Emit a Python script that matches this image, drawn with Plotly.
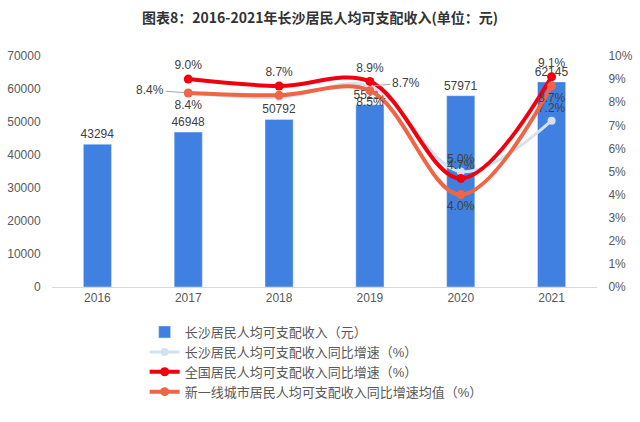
import plotly.graph_objects as go

years = ["2016", "2017", "2018", "2019", "2020", "2021"]
income = [43294, 46948, 50792, 55211, 57971, 62145]
growth_years = ["2017", "2018", "2019", "2020", "2021"]
cs_growth = [8.4, 8.2, 8.7, 5.0, 7.2]
nat_growth = [9.0, 8.7, 8.9, 4.7, 9.1]
tier_growth = [8.4, 8.3, 8.5, 4.0, 8.7]

names = ["长沙居民人均可支配收入（元）", "长沙居民人均可支配收入同比增速（%）",
         "全国居民人均可支配收入同比增速（%）", "新一线城市居民人均可支配收入同比增速均值（%）"]

FONT = "Liberation Sans, Noto Sans CJK SC, sans-serif"
lab = dict(family=FONT, size=12, color="#404040")

def pct(v):
    return f"{v:.1f}%"

fig = go.Figure()
fig.add_trace(go.Bar(x=years, y=income, name=names[0], marker_color="#3F80E0",
                     text=[str(v) for v in income], textposition="outside",
                     textfont=lab, constraintext="none", textangle=0))
cs_text = ["", "", "", pct(cs_growth[3]), pct(cs_growth[4])]
fig.add_trace(go.Scatter(x=growth_years, y=cs_growth, name=names[1], yaxis="y2",
                         mode="lines+markers+text", line=dict(color="#D5E1F3", width=3, shape="spline"),
                         marker=dict(size=8, color="#D5E1F3"), text=cs_text,
                         textposition="top center", textfont=lab))
fig.add_trace(go.Scatter(x=growth_years, y=nat_growth, name=names[2], yaxis="y2",
                         mode="lines+markers+text", line=dict(color="#F0000F", width=4, shape="spline"),
                         marker=dict(size=9, color="#F0000F"), text=[pct(v) for v in nat_growth],
                         textposition="top center", textfont=lab))
tier_text = [pct(v) if i != 1 else "" for i, v in enumerate(tier_growth)]
fig.add_trace(go.Scatter(x=growth_years, y=tier_growth, name=names[3], yaxis="y2",
                         mode="lines+markers+text", line=dict(color="#EE6646", width=4, shape="spline"),
                         marker=dict(size=9, color="#EE6646"), text=tier_text,
                         textposition="bottom center", textfont=lab))

# Changsha growth labels with leader lines (2017 and 2019)
for i, ax in ((0, -38), (2, 36)):
    fig.add_annotation(x=years.index(growth_years[i]), y=cs_growth[i], xref="x", yref="y2",
                       text=pct(cs_growth[i]), showarrow=True, arrowhead=0, arrowwidth=1,
                       arrowcolor="#A6A6A6", ax=ax, ay=-3, font=lab, standoff=4)

fig.update_layout(
    width=640, height=422,
    margin=dict(l=52, r=43, t=56, b=135),
    paper_bgcolor="white", plot_bgcolor="white",
    font=dict(family=FONT, size=12, color="#595959"),
    bargap=0.69,
    title=dict(text="<b>图表8：2016-2021年长沙居民人均可支配收入(单位：元)</b>",
               x=0.5, xanchor="center", y=0.957, yanchor="middle",
               font=dict(family="Noto Sans CJK SC, sans-serif", size=14, color="#333333")),
    xaxis=dict(type="category", showgrid=False, showline=True, linecolor="#D9D9D9", linewidth=1,
               tickfont=dict(size=12, color="#595959"), ticks="", automargin=False),
    yaxis=dict(range=[0, 70000], dtick=10000, tickformat="d", showgrid=False, zeroline=False,
               showline=False, ticks="outside", ticklen=8, tickcolor="rgba(0,0,0,0)",
               tickfont=dict(size=12, color="#595959"), automargin=False),
    yaxis2=dict(range=[0, 10], dtick=1, ticksuffix="%", overlaying="y", side="right",
                showgrid=False, zeroline=False, showline=False,
                ticks="outside", ticklen=8, tickcolor="rgba(0,0,0,0)",
                tickfont=dict(size=12, color="#595959"), automargin=False),
    legend=dict(x=0.17, y=-0.13, xanchor="left", yanchor="top", orientation="v",
                font=dict(family=FONT, size=13, color="#595959"), tracegroupgap=2,
                bgcolor="rgba(0,0,0,0)"),
    showlegend=True,
)
fig.write_html("out.html")
